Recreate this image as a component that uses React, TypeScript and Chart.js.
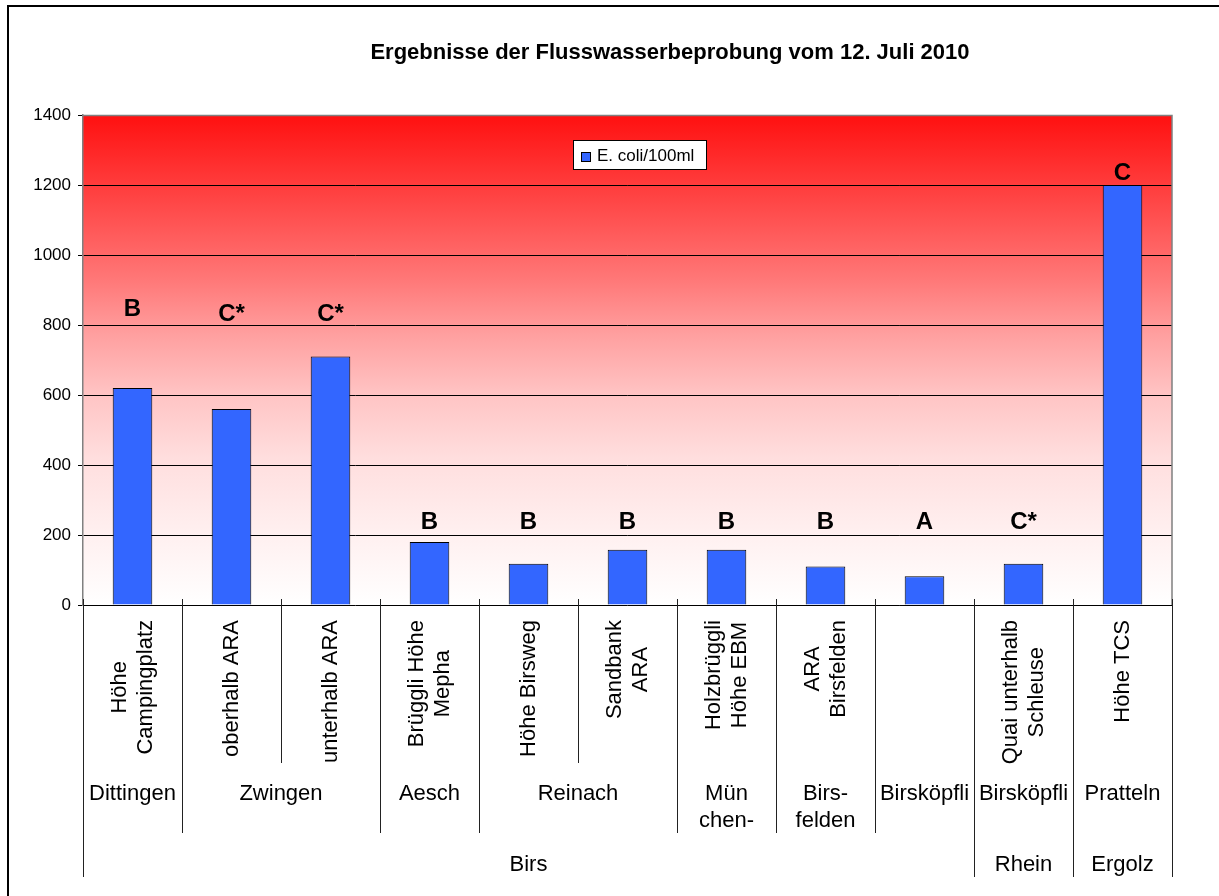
import { useEffect, useRef } from 'react';
import { Chart, registerables } from 'chart.js';

Chart.register(...registerables);

const FONT = '"Liberation Sans", Arial, sans-serif';

const chartTitle = 'Ergebnisse der Flusswasserbeprobung vom 12. Juli 2010';
const seriesName = 'E. coli/100ml';

const stationLabels = [
  'Höhe\nCampingplatz',
  'oberhalb ARA',
  'unterhalb ARA',
  'Brüggli Höhe\nMepha',
  'Höhe Birsweg',
  'Sandbank\nARA',
  'Holzbrüggli\nHöhe EBM',
  'ARA\nBirsfelden',
  '',
  'Quai unterhalb\nSchleuse',
  'Höhe TCS',
];

const ecoliValues = [620, 560, 710, 180, 118, 158, 158, 110, 82, 118, 1200];

const qualityLabels = ['B', 'C*', 'C*', 'B', 'B', 'B', 'B', 'B', 'A', 'C*', 'C'];
const qualityLabelLevels = [826, 811, 811, 217, 217, 217, 217, 217, 217, 217, 1214];

const cityNames = ['Dittingen', 'Zwingen', 'Aesch', 'Reinach', 'Mün\nchen-', 'Birs-\nfelden', 'Birsköpfli', 'Birsköpfli', 'Pratteln'];
const citySpans = [1, 2, 1, 2, 1, 1, 1, 1, 1];

const riverNames = ['Birs', 'Rhein', 'Ergolz'];
const riverSpans = [9, 1, 1];

const yTicks = [0, 200, 400, 600, 800, 1000, 1200, 1400];

function cumulative(spans: number[]): number[] {
  const out = [0];
  spans.forEach((s) => out.push(out[out.length - 1] + s));
  return out;
}

export default function App() {
  const ref = useRef<HTMLCanvasElement>(null);

  useEffect(() => {
    const canvas = ref.current!;

    const decor = {
      id: 'decor',
      beforeDraw(chart: any) {
        const { ctx, chartArea: a } = chart;
        ctx.save();
        ctx.fillStyle = '#ffffff';
        ctx.fillRect(0, 0, chart.width, chart.height);
        const g = ctx.createLinearGradient(0, a.top, 0, a.bottom);
        g.addColorStop(0, 'rgb(255,16,16)');
        g.addColorStop(0.15, 'rgb(255,62,62)');
        g.addColorStop(0.337, 'rgb(255,120,120)');
        g.addColorStop(0.45, 'rgb(255,160,160)');
        g.addColorStop(0.571, 'rgb(255,196,196)');
        g.addColorStop(0.7, 'rgb(255,222,222)');
        g.addColorStop(0.857, 'rgb(255,240,240)');
        g.addColorStop(1, 'rgb(255,255,255)');
        ctx.fillStyle = g;
        ctx.fillRect(a.left, a.top, a.right - a.left, a.bottom - a.top);
        ctx.restore();
      },
      afterDatasetsDraw(chart: any) {
        const { ctx } = chart;
        const xs = chart.scales.x;
        const ys = chart.scales.y;
        ctx.save();
        ctx.fillStyle = '#000';
        ctx.font = `bold 24px ${FONT}`;
        ctx.textAlign = 'center';
        ctx.textBaseline = 'alphabetic';
        qualityLabels.forEach((t, i) => {
          ctx.fillText(t, xs.getPixelForValue(i), ys.getPixelForValue(qualityLabelLevels[i]));
        });
        ctx.restore();
      },
      afterDraw(chart: any) {
        const { ctx, chartArea: a } = chart;
        const xs = chart.scales.x;
        const n = stationLabels.length;
        const half = (xs.getPixelForValue(1) - xs.getPixelForValue(0)) / 2;
        const edge = (i: number) => xs.getPixelForValue(i) - half;
        ctx.save();

        // plot border top/right
        ctx.strokeStyle = '#808080';
        ctx.lineWidth = 1.5;
        ctx.beginPath();
        ctx.moveTo(a.left, a.top + 0.5);
        ctx.lineTo(a.right, a.top + 0.5);
        ctx.lineTo(a.right, a.bottom);
        ctx.stroke();

        // separators
        const cityB = cumulative(citySpans);
        const riverB = cumulative(riverSpans);
        ctx.strokeStyle = '#222';
        ctx.lineWidth = 1;
        for (let i = 0; i <= n; i++) {
          let end = 763;
          if (riverB.includes(i)) end = 877;
          else if (cityB.includes(i)) end = 833;
          const x = Math.round(edge(i)) + 0.5;
          ctx.beginPath();
          ctx.moveTo(x, a.bottom - 6);
          ctx.lineTo(x, end);
          ctx.stroke();
        }

        // rotated station labels
        ctx.fillStyle = '#000';
        ctx.font = `22px ${FONT}`;
        ctx.textAlign = 'center';
        ctx.textBaseline = 'middle';
        const lh = 26;
        stationLabels.forEach((lab, i) => {
          if (!lab) return;
          const lines = lab.split('\n');
          const maxW = Math.max(...lines.map((l) => ctx.measureText(l).width));
          ctx.save();
          ctx.translate(xs.getPixelForValue(i), 620 + maxW / 2);
          ctx.rotate(-Math.PI / 2);
          lines.forEach((l, j) => {
            ctx.fillText(l, 0, (j - (lines.length - 1) / 2) * lh);
          });
          ctx.restore();
        });

        // city row
        ctx.textBaseline = 'alphabetic';
        cityNames.forEach((name, k) => {
          const cx = (edge(cityB[k]) + edge(cityB[k + 1])) / 2;
          name.split('\n').forEach((l, j) => ctx.fillText(l, cx, 800 + j * 27));
        });

        // river row
        riverNames.forEach((name, k) => {
          const cx = (edge(riverB[k]) + edge(riverB[k + 1])) / 2;
          ctx.fillText(name, cx, 871);
        });

        // legend
        ctx.fillStyle = '#fff';
        ctx.fillRect(573.5, 140.5, 133, 29);
        ctx.strokeStyle = '#000';
        ctx.lineWidth = 1;
        ctx.strokeRect(573.5, 140.5, 133, 29);
        ctx.fillStyle = '#3366FF';
        ctx.fillRect(581.5, 152.5, 9, 9);
        ctx.strokeRect(581.5, 152.5, 9, 9);
        ctx.fillStyle = '#000';
        ctx.font = `17px ${FONT}`;
        ctx.textAlign = 'left';
        ctx.textBaseline = 'middle';
        ctx.fillText(seriesName, 597, 156);

        // title
        ctx.font = `bold 22px ${FONT}`;
        ctx.textAlign = 'center';
        ctx.fillText(chartTitle, 670, 53);

        // outer frame
        ctx.strokeStyle = '#000';
        ctx.lineWidth = 2;
        ctx.strokeRect(8, 6, 3000, 3000);
        ctx.restore();
      },
    };

    const chart = new Chart(canvas, {
      type: 'bar',
      data: {
        labels: stationLabels,
        datasets: [
          {
            label: seriesName,
            data: ecoliValues,
            backgroundColor: '#3366FF',
            borderColor: '#000000',
            borderWidth: 1,
            barPercentage: 0.4,
            categoryPercentage: 1,
          },
        ],
      },
      options: {
        responsive: false,
        animation: false,
        devicePixelRatio: 1,
        layout: { padding: { top: 115, right: 47, bottom: 291, left: 0 } },
        plugins: {
          legend: { display: false },
          title: { display: false },
          tooltip: { enabled: false },
        },
        scales: {
          x: { display: false },
          y: {
            min: 0,
            max: 1400,
            afterBuildTicks: (scale: any) => {
              scale.ticks = yTicks.map((v) => ({ value: v }));
            },
            afterFit: (scale: any) => {
              scale.width = 83;
            },
            ticks: {
              color: '#000',
              font: { family: FONT, size: 17 },
              padding: 7,
              callback: (v: any) => String(v),
            },
            grid: {
              color: (c: any) => (c.tick && c.tick.value === 1400 ? '#808080' : '#000'),
              lineWidth: 1,
              tickLength: 5,
              tickColor: '#000',
            },
            border: { display: true, color: '#808080', width: 1.5 },
          },
        },
      },
      plugins: [decor],
    });
    return () => chart.destroy();
  }, []);

  return (
    <canvas
      ref={ref}
      width={1219}
      height={896}
      style={{ position: 'fixed', left: 0, top: 0, display: 'block', width: 1219, height: 896 }}
    />
  );
}
